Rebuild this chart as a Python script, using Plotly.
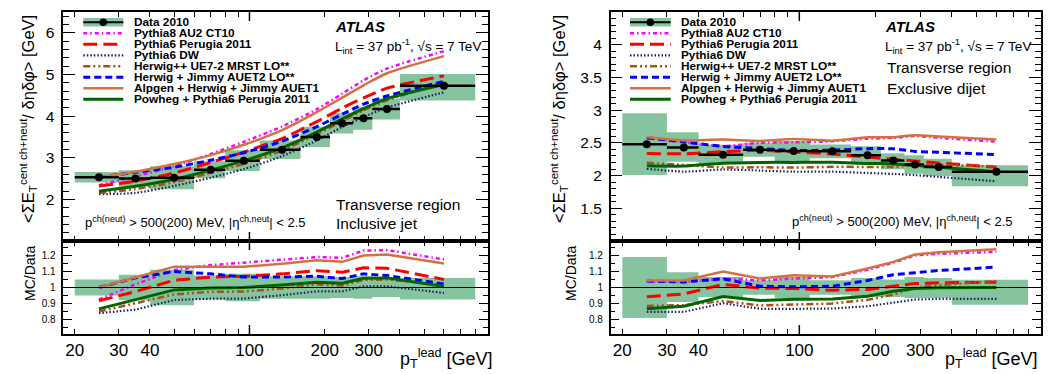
import numpy as np
import plotly.graph_objects as go

# The page body has an 8px default margin, so the figure is placed at (8, 8)
OFF = 8
W, H = 1053 - OFF, 374 - OFF
FONT = "Liberation Sans, Arial, sans-serif"

# ---------------- data ----------------
pt_lead = [25, 35, 50, 70, 95, 135, 186, 235, 286, 355, 600]
bin_lo = [20, 30, 40, 60, 80, 110, 160, 210, 260, 310, 400]
bin_hi = [30, 40, 60, 80, 110, 160, 210, 260, 310, 400, 800]

# Inclusive jet (left)
incl_data = [2.53, 2.50, 2.52, 2.71, 2.93, 3.19, 3.50, 3.83, 3.95, 4.17, 4.73]
incl_sys_up = [0.05, 0.08, 0.11, 0.075, 0.085, 0.07, 0.07, 0.065, 0.07, 0.06, 0.06]
incl_sys_dn = [0.05, 0.08, 0.11, 0.075, 0.085, 0.07, 0.07, 0.065, 0.07, 0.06, 0.075]
incl_pythia8 = [0.925, 1.02, 1.11, 1.14, 1.155, 1.175, 1.19, 1.185, 1.23, 1.233, 1.175]
incl_perugia = [0.917, 0.975, 1.045, 1.065, 1.07, 1.085, 1.105, 1.095, 1.123, 1.12, 1.05]
incl_dw = [0.84, 0.862, 0.922, 0.93, 0.931, 0.952, 0.976, 0.976, 1.007, 1.008, 0.966]
incl_herwigpp = [0.85, 0.90, 0.957, 0.973, 0.975, 0.994, 1.019, 1.012, 1.048, 1.05, 1.017]
incl_herwig_jimmy = [1.00, 1.06, 1.10, 1.085, 1.065, 1.065, 1.07, 1.056, 1.085, 1.075, 1.022]
incl_alpgen = [1.00, 1.065, 1.13, 1.13, 1.13, 1.148, 1.17, 1.16, 1.20, 1.206, 1.15]
incl_powheg = [0.867, 0.925, 0.985, 0.997, 1.0, 1.015, 1.033, 1.027, 1.058, 1.06, 1.006]

# Exclusive dijet (right)
excl_data = [2.48, 2.43, 2.32, 2.395, 2.375, 2.37, 2.31, 2.23, 2.17, 2.13, 2.06]
excl_sys_up = [0.19, 0.095, 0.065, 0.045, 0.065, 0.045, 0.06, 0.05, 0.065, 0.06, 0.048]
excl_sys_dn = [0.19, 0.09, 0.06, 0.045, 0.065, 0.045, 0.06, 0.06, 0.065, 0.065, 0.108]
excl_pythia8 = [1.04, 1.033, 1.056, 1.044, 1.056, 1.065, 1.11, 1.155, 1.20, 1.21, 1.223]
excl_perugia = [0.942, 0.96, 1.019, 0.996, 0.994, 0.983, 0.988, 1.008, 1.025, 1.029, 1.033]
excl_dw = [0.848, 0.848, 0.902, 0.867, 0.867, 0.869, 0.883, 0.908, 0.925, 0.929, 0.929]
excl_herwigpp = [0.885, 0.89, 0.915, 0.888, 0.894, 0.90, 0.923, 0.956, 0.998, 1.015, 1.04]
excl_herwig_jimmy = [1.04, 1.035, 1.054, 1.008, 1.004, 1.008, 1.044, 1.08, 1.092, 1.106, 1.127]
excl_alpgen = [1.044, 1.044, 1.10, 1.056, 1.077, 1.069, 1.119, 1.16, 1.206, 1.22, 1.238]
excl_powheg = [0.867, 0.883, 0.944, 0.919, 0.927, 0.929, 0.946, 0.977, 0.994, 0.998, 1.0]

x_tickvals = [20, 30, 40, 50, 60, 70, 80, 90, 100, 200, 300, 400, 500, 600, 700, 800]
x_ticktext = ["20", "30", "40", "", "", "", "", "", "100", "200", "300", "", "", "", "", ""]
ratio_tickvals = [0.8, 0.9, 1.0, 1.1, 1.2]
ratio_ticktext = ["0.8", "0.9", "1", "1.1", "1.2"]
incl_tickvals = [2, 3, 4, 5, 6]
excl_tickvals = [1.5, 2, 2.5, 3, 3.5, 4]
excl_ticktext = ["1.5", "2", "2.5", "3", "3.5", "4"]

model_names = ["Pythia8 AU2 CT10", "Pythia6 Perugia 2011", "Pythia6 DW",
               "Herwig++ UE7-2 MRST LO**", "Herwig + Jimmy AUET2 LO**",
               "Alpgen + Herwig + Jimmy AUET1", "Powheg + Pythia6 Perugia 2011"]
incl_models = [incl_pythia8, incl_perugia, incl_dw, incl_herwigpp, incl_herwig_jimmy, incl_alpgen, incl_powheg]
excl_models = [excl_pythia8, excl_perugia, excl_dw, excl_herwigpp, excl_herwig_jimmy, excl_alpgen, excl_powheg]

# styles (color, dash, width)
styles = [
    ("#FF00FF", "4px,3px,1.5px,3px", 2.5),
    ("#FF0000", "14px,6px", 3),
    ("#1E1E5A", "1.5px,2px", 2.2),
    ("#A8501A", "7px,3px,2px,3px,2px,3px", 2.5),
    ("#0000FF", "7px,4px", 3),
    ("#D2733F", "solid", 2.5),
    ("#006400", "solid", 3),
]
BAND = "rgb(134,196,160)"

fig = go.Figure()


def band_xy(values, up, dn):
    xs, ys = [], []
    for lo, hi, v, u, d in zip(bin_lo, bin_hi, values, up, dn):
        xs += [lo, hi, hi, lo, lo, None]
        ys += [v * (1 - d), v * (1 - d), v * (1 + u), v * (1 + u), v * (1 - d), None]
    return xs, ys


def add_panel(data, up, dn, models, xa_top, ya_top, xa_rat, ya_rat):
    bx, by = band_xy(data, up, dn)
    fig.add_trace(go.Scatter(x=bx, y=by, fill="toself", fillcolor=BAND, mode="none",
                             hoverinfo="skip", showlegend=False, xaxis=xa_top, yaxis=ya_top))
    rx, ry = band_xy([1.0] * len(data), up, dn)
    fig.add_trace(go.Scatter(x=rx, y=ry, fill="toself", fillcolor=BAND, mode="none",
                             hoverinfo="skip", showlegend=False, xaxis=xa_rat, yaxis=ya_rat))
    for name, ratio, (col, dash, wid) in zip(model_names, models, styles):
        mc = [d * r for d, r in zip(data, ratio)]
        fig.add_trace(go.Scatter(x=pt_lead, y=mc, mode="lines", name=name,
                                 line=dict(color=col, dash=dash, width=wid, shape="spline", smoothing=0.7),
                                 showlegend=False, xaxis=xa_top, yaxis=ya_top))
        fig.add_trace(go.Scatter(x=pt_lead, y=ratio, mode="lines", name=name,
                                 line=dict(color=col, dash=dash, width=wid),
                                 showlegend=False, xaxis=xa_rat, yaxis=ya_rat))
    ex_p = [h - x for h, x in zip(bin_hi, pt_lead)]
    ex_m = [x - l for l, x in zip(bin_lo, pt_lead)]
    fig.add_trace(go.Scatter(x=pt_lead, y=data, mode="markers", name="Data 2010",
                             marker=dict(color="black", size=8),
                             error_x=dict(type="data", array=ex_p, arrayminus=ex_m, symmetric=False,
                                          color="black", thickness=2.5, width=0),
                             showlegend=False, xaxis=xa_top, yaxis=ya_top))


add_panel(incl_data, incl_sys_up, incl_sys_dn, incl_models, "x", "y", "x2", "y2")
add_panel(excl_data, excl_sys_up, excl_sys_dn, excl_models, "x3", "y3", "x4", "y4")


# convert window pixel coordinates to paper fractions
def px(v):
    return (v - OFF) / W


def py(v):
    return 1 - (v - OFF) / H


LX = [px(63.3), px(488)]
RX = [px(610.7), px(1041)]
TOPY = [py(241), py(12)]
RATY = [py(334), py(241)]
XR = [np.log10(18), np.log10(900)]

common_axis = dict(showline=True, linecolor="black", linewidth=1.5, mirror="allticks",
                   ticks="inside", tickcolor="black", showgrid=False, zeroline=False,
                   automargin=False)


def xax(domain, anchor, labels):
    return dict(common_axis, type="log", range=XR, domain=domain, anchor=anchor,
                tickmode="array", tickvals=x_tickvals, ticktext=x_ticktext,
                showticklabels=labels, ticklen=5, tickwidth=1,
                tickfont=dict(size=17, color="black", family=FONT))


def yax(domain, anchor, rng, tv, tt, major_len, minor_dt, minor_len, fsize):
    return dict(common_axis, range=rng, domain=domain, anchor=anchor,
                tickmode="array", tickvals=tv, ticktext=tt, ticklen=major_len, tickwidth=1,
                ticklabelstandoff=4,
                minor=dict(tickmode="linear", tick0=0, dtick=minor_dt, ticklen=minor_len,
                           ticks="inside", tickcolor="black", tickwidth=1),
                tickfont=dict(size=fsize, color="black", family=FONT))


fig.update_layout(
    width=W, height=H, autosize=False,
    margin=dict(l=0, r=0, t=0, b=0),
    paper_bgcolor="white", plot_bgcolor="white",
    font=dict(family=FONT, color="black"),
    showlegend=False,
    xaxis=xax(LX, "y", False),
    xaxis2=xax(LX, "y2", True),
    xaxis3=xax(RX, "y3", False),
    xaxis4=xax(RX, "y4", True),
    yaxis=yax(TOPY, "x", [1, 6.5], incl_tickvals, [str(v) for v in incl_tickvals], 12, 0.2, 6, 15.5),
    yaxis2=yax(RATY, "x2", [0.71, 1.29], ratio_tickvals, ratio_ticktext, 9, 0.05, 5, 10),
    yaxis3=yax(TOPY, "x3", [1, 4.5], excl_tickvals, excl_ticktext, 12, 0.1, 6, 15.5),
    yaxis4=yax(RATY, "x4", [0.71, 1.29], ratio_tickvals, ratio_ticktext, 9, 0.05, 5, 10),
)

shapes = []
for xa, ya in [("x2", "y2"), ("x4", "y4")]:
    shapes.append(dict(type="line", xref=f"{xa} domain", x0=0, x1=1, yref=ya, y0=1, y1=1,
                       line=dict(color="black", width=1), layer="above"))
for xa, ya, hpx in [("x", "y", 229), ("x3", "y3", 229), ("x2", "y2", 93), ("x4", "y4", 93)]:
    L = 9 / hpx
    shapes.append(dict(type="line", xref=xa, x0=100, x1=100, yref=f"{ya} domain", y0=0, y1=L,
                       line=dict(color="black", width=1.5)))
    shapes.append(dict(type="line", xref=xa, x0=100, x1=100, yref=f"{ya} domain", y0=1, y1=1 - L,
                       line=dict(color="black", width=1.5)))

annotations = []


def txt(x, y, s, size, anchor="left", angle=0, yanchor="middle", family=FONT):
    annotations.append(dict(x=px(x), y=py(y), xref="paper", yref="paper", text=s, showarrow=False,
                            xanchor=anchor, yanchor=yanchor, textangle=angle,
                            font=dict(size=size, color="black", family=family)))


LEG_SIZE = 11.8


def legend(x0, x1, xt, y0, dy):
    xm = (x0 + x1) / 2
    shapes.append(dict(type="rect", xref="paper", yref="paper", x0=px(x0), x1=px(x1),
                       y0=py(y0 - 4.2), y1=py(y0 + 4.2), fillcolor=BAND, line=dict(width=0)))
    shapes.append(dict(type="line", xref="paper", yref="paper", x0=px(x0), x1=px(x1),
                       y0=py(y0), y1=py(y0), line=dict(color="black", width=2)))
    shapes.append(dict(type="circle", xref="paper", yref="paper", x0=px(xm - 3.8), x1=px(xm + 3.8),
                       y0=py(y0 - 3.8), y1=py(y0 + 3.8), fillcolor="black", line=dict(width=0)))
    txt(xt, y0, "<b>Data 2010</b>", LEG_SIZE)
    for i, (name, (col, dash, wid)) in enumerate(zip(model_names, styles)):
        yy = y0 + dy * (i + 1)
        shapes.append(dict(type="line", xref="paper", yref="paper", x0=px(x0), x1=px(x1),
                           y0=py(yy), y1=py(yy), line=dict(color=col, dash=dash, width=wid)))
        txt(xt, yy, f"<b>{name}</b>", LEG_SIZE)


legend(83.3, 123.3, 132.0, 22.3, 11.0)
legend(630.0, 670.7, 678.5, 22.3, 11.0)

lumi = "L<sub>int</sub> = 37 pb<sup>-1</sup>, √s = 7 TeV"
pcut = "p<sup>ch(neut)</sup> &gt; 500(200) MeV, |η<sup>ch,neut</sup>| &lt; 2.5"

txt(333, 27, "<b><i>ATLAS</i></b>", 15)
txt(333, 46, lumi, 13.5)
txt(334, 204, "Transverse region", 15.5)
txt(334, 223, "Inclusive jet", 15.5)
txt(83, 222, pcut, 13)

txt(883, 27, "<b><i>ATLAS</i></b>", 15)
txt(883, 46, lumi, 13.5)
txt(885, 68, "Transverse region", 15.5)
txt(885, 88, "Exclusive dijet", 15.5)
txt(790, 221, pcut, 13)

ytitle = "&lt;ΣE<sub>T</sub><sup>cent ch+neut</sup>/ δηδφ&gt; [GeV]"
txt(28, 119, ytitle, 16.5, anchor="center", angle=-90)
txt(559, 119, ytitle, 16.5, anchor="center", angle=-90)
txt(30, 274, "MC/Data", 14, anchor="center", angle=-90)
txt(571, 274, "MC/Data", 14, anchor="center", angle=-90)

xtitle = "p<sub>T</sub><sup>lead</sup> [GeV]"
txt(495, 373, xtitle, 18, anchor="right", yanchor="bottom")
txt(1040, 373, xtitle, 18, anchor="right", yanchor="bottom")

fig.update_layout(shapes=shapes, annotations=annotations)
fig.write_html("out.html")
